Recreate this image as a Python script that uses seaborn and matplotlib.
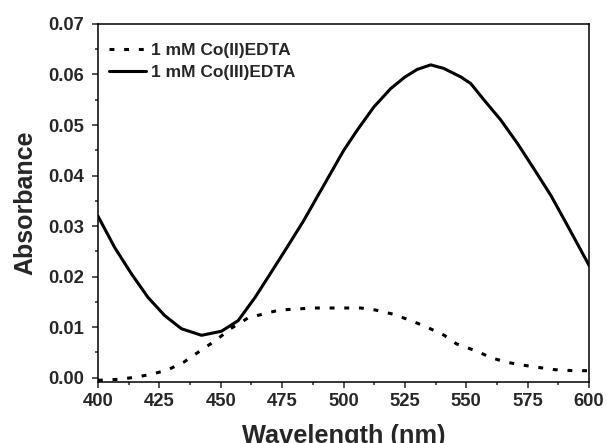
import matplotlib
matplotlib.use("Agg")
import matplotlib.pyplot as plt
from matplotlib.ticker import MultipleLocator, FormatStrFormatter
import seaborn as sns
import pandas as pd

# Co(II)EDTA, dotted curve
co2_wl = [400, 402, 409, 415, 422, 428.6, 435, 441, 448, 454, 461, 468, 474,
          481, 487, 494, 501, 507, 513, 520, 527, 534, 541, 546, 554, 560,
          566, 573, 580, 586, 593.6, 600]
co2_abs = [-0.0005, -0.00046, -0.0003, 0.0001, 0.0007, 0.0016, 0.0031, 0.0051,
           0.0074, 0.0097, 0.0118, 0.0127, 0.0134, 0.0136, 0.0138, 0.0138,
           0.0138, 0.0138, 0.0134, 0.0126, 0.0114, 0.0100, 0.0084, 0.0067,
           0.0053, 0.0040, 0.0031, 0.0025, 0.0020, 0.0016, 0.0014, 0.0014]

# Co(III)EDTA, solid curve
co3_wl = [400, 406.8, 413.6, 420.4, 427.2, 434, 442.2, 450.3, 457.1, 464,
          470.2, 477, 483.8, 489.3, 494.7, 500.1, 505.6, 512.4, 519.2, 525,
          530, 535.5, 540.8, 547.8, 551.8, 557.3, 564, 570.9, 577.7, 584.5,
          591.3, 600]
co3_abs = [0.032, 0.0258, 0.0206, 0.0159, 0.0123, 0.0097, 0.0084, 0.0092,
           0.0113, 0.0159, 0.0206, 0.0258, 0.0311, 0.0358, 0.0404, 0.0450,
           0.0490, 0.0536, 0.0572, 0.0595, 0.0610, 0.0619, 0.0612, 0.0595,
           0.0582, 0.0549, 0.0510, 0.0463, 0.0412, 0.0360, 0.0300, 0.0222]

labels = ["1 mM Co(II)EDTA", "1 mM Co(III)EDTA"]

sns.set_theme(style="ticks")
plt.rcParams["font.family"] = ["Liberation Sans", "DejaVu Sans"]
plt.rcParams["font.weight"] = "bold"

df2 = pd.DataFrame({"wl": co2_wl, "abs": co2_abs})
df3 = pd.DataFrame({"wl": co3_wl, "abs": co3_abs})

fig = plt.figure(figsize=(6.08, 4.43), dpi=100)
ax = fig.add_axes([0.161, 0.137, 0.808, 0.809])

sns.lineplot(data=df2, x="wl", y="abs", ax=ax, color="black", linewidth=2.2,
             label=labels[0], estimator=None, sort=False)
sns.lineplot(data=df3, x="wl", y="abs", ax=ax, color="black", linewidth=2.2,
             label=labels[1], estimator=None, sort=False)
ax.lines[0].set_dashes((1.6, 3.2))

ax.set_xlim(400, 600)
ax.set_ylim(-0.0009, 0.07)
ax.xaxis.set_major_locator(MultipleLocator(25))
ax.xaxis.set_minor_locator(MultipleLocator(12.5))
ax.yaxis.set_major_locator(MultipleLocator(0.01))
ax.yaxis.set_minor_locator(MultipleLocator(0.005))
ax.yaxis.set_major_formatter(FormatStrFormatter("%.2f"))
ax.tick_params(which="major", direction="out", length=4, width=1.1,
               labelsize=13.3, pad=4, top=False, right=False)
ax.tick_params(axis="y", which="major", pad=6)
ax.tick_params(which="minor", direction="out", length=2.5, width=1.1,
               top=False, right=False)
for lab in ax.get_xticklabels() + ax.get_yticklabels():
    lab.set_fontweight("bold")
for sp in ax.spines.values():
    sp.set_visible(True)
    sp.set_linewidth(1.1)
    sp.set_color("black")

ax.set_xlabel("Wavelength (nm)", fontsize=18.3, fontweight="bold",
              labelpad=10)
ax.set_ylabel("Absorbance", fontsize=18, fontweight="bold", labelpad=8)

leg = ax.legend(loc="upper left", bbox_to_anchor=(0.0, 0.978),
                frameon=False, handlelength=2.1, handletextpad=0.3,
                borderaxespad=0.25, borderpad=0.4, labelspacing=0.4,
                prop={"size": 12.5, "weight": "bold"})

fig.savefig("out.png", dpi=100)
